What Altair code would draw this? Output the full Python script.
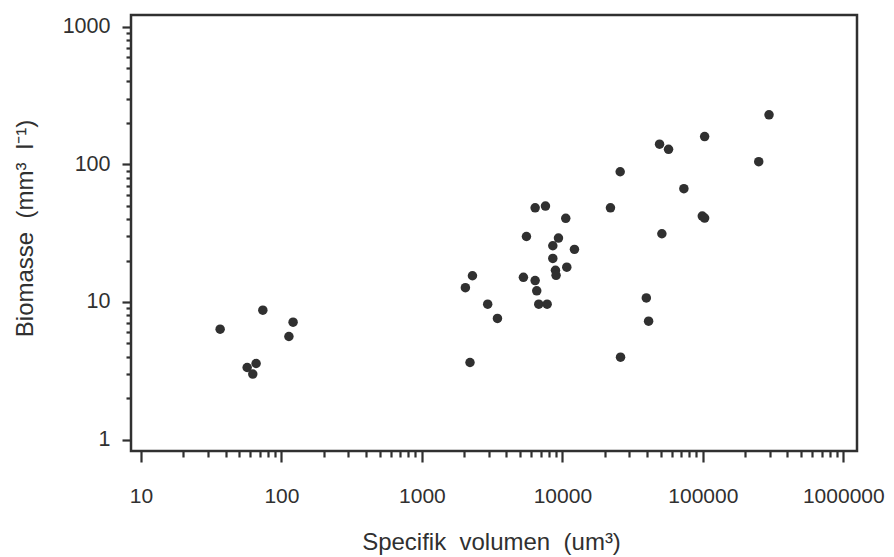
import altair as alt
import pandas as pd

# Specifik volumen (um^3) and Biomasse (mm^3 l^-1)
volumen = [36.6, 73.7, 121, 113, 57, 66, 62.5,
           6400, 7580, 10570, 5550, 9380, 8550, 12190, 8550, 10750, 8930, 9020,
           2290, 2040, 5280, 6400, 6570, 2940, 3450, 6790, 7790, 2200,
           25800, 22000, 25950, 296000, 103000, 49200, 57000, 250000, 73300,
           99100, 103000, 51100, 39600, 41100]
biomasse = [6.34, 8.72, 7.13, 5.61, 3.34, 3.57, 2.99,
            48.3, 49.7, 40.5, 29.9, 29.1, 25.6, 24.1, 20.7, 17.9, 17.0, 15.6,
            15.5, 12.7, 15.1, 14.3, 12.05, 9.64, 7.59, 9.64, 9.64, 3.63,
            88.3, 48.3, 3.97, 229, 159, 140, 128.5, 104.5, 66.5,
            42.1, 40.7, 31.3, 10.7, 7.25]

x_major = [10, 100, 1000, 10000, 100000, 1000000]
x_minor = [m * 10 ** e for e in range(1, 6) for m in range(2, 10)]
y_major = [1, 10, 100, 1000]
y_minor = [m * 10 ** e for e in range(0, 3) for m in range(2, 10)]

x_title = "Specifik \u00a0volumen \u00a0(um\u00b3)"
y_title = "Biomasse \u00a0(mm\u00b3 \u00a0l\u207b\u00b9)"

df = pd.DataFrame({"volumen": volumen, "biomasse": biomasse})

INK = "#303030"
FONT = "Liberation Sans"


def is_major(vals):
    return "indexof([" + ",".join(str(v) for v in vals) + "], datum.value) >= 0"


x_axis = alt.Axis(
    values=sorted(x_major + x_minor),
    format="d",
    labelExpr=is_major(x_major) + " ? datum.label : ''",
    tickSize={"condition": {"test": is_major(x_major), "value": 11}, "value": 6},
    tickWidth=2.2,
    tickColor=INK,
    labelPadding=23,
    labelFontSize=21,
    labelFont=FONT,
    labelColor=INK,
    labelOverlap=False,
    labelFlush=False,
    labelBound=False,
    domain=False,
    grid=False,
    title=x_title,
    titleFont=FONT,
    titleFontSize=24,
    titleFontWeight="normal",
    titleColor=INK,
    titleX=360,
    titleY=91,
    titleAlign="center",
    titleBaseline="middle",
)

y_axis = alt.Axis(
    values=sorted(y_major + y_minor),
    format="d",
    labelExpr=is_major(y_major) + " ? datum.label : ''",
    tickSize={"condition": {"test": is_major(y_major), "value": 9}, "value": 5},
    tickWidth=2.2,
    tickColor=INK,
    labelPadding=12,
    labelFontSize=21.5,
    labelFont=FONT,
    labelColor=INK,
    labelOverlap=False,
    labelFlush=False,
    labelBound=False,
    domain=False,
    grid=False,
    title=y_title,
    titleFont=FONT,
    titleFontSize=24,
    titleFontWeight="normal",
    titleColor=INK,
    titleAngle=270,
    titleX=-106,
    titleY=213,
    titleAlign="center",
    titleBaseline="middle",
)

chart = (
    alt.Chart(df)
    .mark_circle(size=90, color=INK, opacity=1)
    .encode(
        x=alt.X("volumen:Q",
                scale=alt.Scale(type="log", domain=[8.49, 1252000], nice=False),
                axis=x_axis),
        y=alt.Y("biomasse:Q",
                scale=alt.Scale(type="log", domain=[0.826, 1216], nice=False),
                axis=y_axis),
    )
    .properties(
        width=726,
        height=436,
        autosize=alt.AutoSizeParams(type="none"),
        padding={"left": 123, "top": 7, "right": 29, "bottom": 106},
        background="white",
    )
    .configure_view(stroke=INK, strokeWidth=2.5)
)

chart.save("out.html", embed_options={"renderer": "svg", "actions": False})
